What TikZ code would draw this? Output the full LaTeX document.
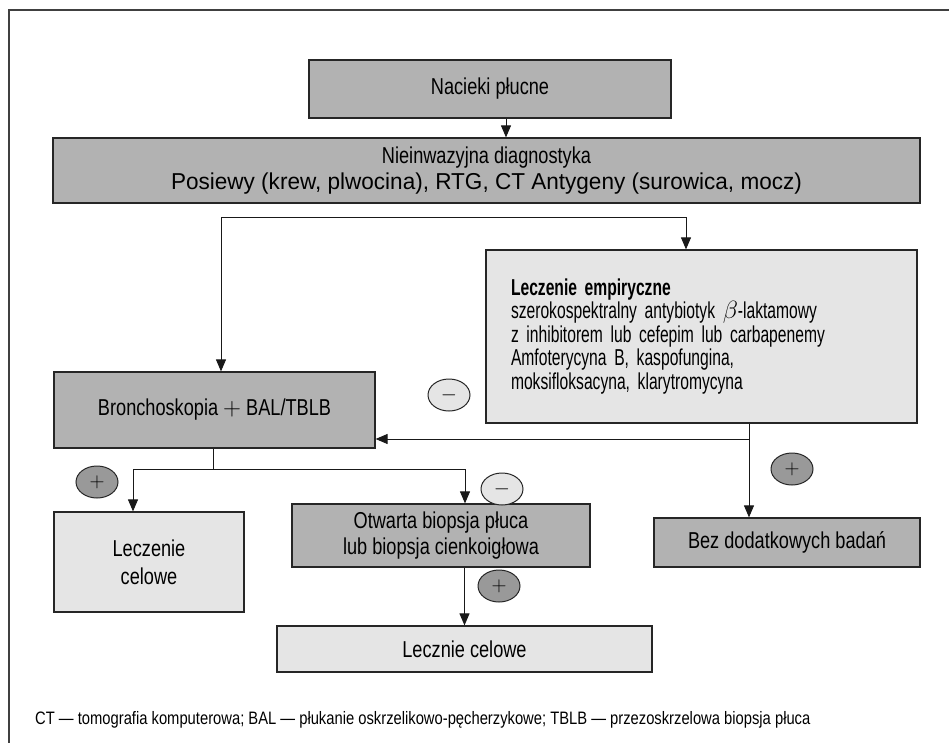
\documentclass[tikz,border=0pt]{standalone}
\usepackage{fontspec}
\setmainfont{Liberation Sans}[FakeStretch=0.79]
\newfontfamily\widefont{Liberation Sans}[FakeStretch=0.98]
\newfontfamily\narrowfont{Liberation Sans}[FakeStretch=0.68]
\newfontfamily\notefont{Liberation Sans}[FakeStretch=0.82]
\usetikzlibrary{arrows.meta}
\usetikzlibrary{shapes.geometric}

\tikzset{
  darkbox/.style={draw=black!85, line width=1.2pt, fill=black!30, inner sep=0pt, align=center, font=\fontsize{23}{26}\selectfont},
  lightbox/.style={draw=black!85, line width=1.2pt, fill=black!10, inner sep=0pt, align=center, font=\fontsize{23}{26}\selectfont},
  pluslabel/.style={ellipse, draw=black!85, line width=1pt, fill=black!40, minimum width=42pt, minimum height=32pt, inner sep=0pt, font=\fontsize{20}{20}\selectfont},
  minuslabel/.style={ellipse, draw=black!85, line width=1pt, fill=black!10, minimum width=42pt, minimum height=32pt, inner sep=0pt, font=\fontsize{20}{20}\selectfont},
  arr/.style={-{Triangle[length=12pt,width=10pt]}, line width=1pt, draw=black!90},
  link/.style={line width=1pt, draw=black!90}
}

\begin{document}
\begin{tikzpicture}[x=1pt, y=-1pt]
\useasboundingbox (0,0) rectangle (949,743);

% frame
\draw[line width=2pt, black!75] (949,10) -- (9,10) -- (9,743);

% top
\node[darkbox, minimum width=362pt, minimum height=58pt] (nacieki) at (490,89) {Nacieki płucne};
\node[darkbox, minimum width=867pt, minimum height=65pt] (diag) at (486.5,170.5)
  {Nieinwazyjna diagnostyka\\{\widefont Posiewy (krew, plwocina), RTG, CT Antygeny (surowica, mocz)}};
\draw[arr] ([xshift=16pt]nacieki.south) -- ([xshift=16pt]nacieki.south |- diag.north);

% empirical treatment
\node[lightbox, minimum width=431pt, minimum height=173pt, text width=381pt, align=left,
      font=\narrowfont\fontsize{23}{23.5}\selectfont] (empir) at (701.5,336.5)
  {\textbf{Leczenie empiryczne}\\
   szerokospektralny antybiotyk $\beta$-laktamowy\\
   z inhibitorem lub cefepim lub carbapenemy\\
   Amfoterycyna B, kaspofungina,\\
   moksifloksacyna, klarytromycyna};
\node[darkbox, minimum width=321pt, minimum height=76pt] (bronch) at (214.5,410) {Bronchoskopia $+$ BAL/TBLB};

\coordinate (split) at (221,218);
\coordinate (splitR) at (686,218);
\draw[arr] (split) -- (split |- bronch.north);
\draw[arr] (split) -- (splitR) -- (splitR |- empir.north);

% lower row
\node[lightbox, minimum width=190pt, minimum height=100pt, font=\fontsize{23}{28}\selectfont] (celowe) at (149,562) {Leczenie\\celowe};
\node[darkbox, minimum width=298pt, minimum height=63pt] (otwarta) at (441,535.5)
  {Otwarta biopsja płuca\\lub biopsja cienkoigłowa};
\node[lightbox, minimum width=375pt, minimum height=46pt] (celowe2) at (464.5,649) {Lecznie celowe};
\node[darkbox, minimum width=266pt, minimum height=49pt] (bez) at (787,542.5) {Bez dodatkowych badań};

\coordinate (drop) at (749,439);
\draw[arr] (drop |- empir.south) -- (drop |- bez.north);
\draw[arr] (drop) -- (drop -| bronch.east);

\coordinate (fork) at (213,469);
\coordinate (forkL) at (133,469);
\coordinate (forkR) at (465,469);
\draw[link] (fork |- bronch.south) -- (fork);
\draw[arr] (forkL) -- (forkL |- celowe.north);
\draw[arr] (forkL) -- (forkR) -- (forkR |- otwarta.north);
\draw[arr] (otwarta.south -| celowe2.north) -- (celowe2.north);

% signs
\node[minuslabel] (minus1) at (449,395) {$-$};
\node[minuslabel] (minus2) at (502,489) {$-$};
\node[pluslabel] (plus1) at (97,482) {$+$};
\node[pluslabel] (plus2) at (792,469) {$+$};
\node[pluslabel] (plus3) at (499,586) {$+$};

% footnote
\node[anchor=west, inner sep=0pt, font=\notefont\fontsize{18}{18}\selectfont] (note) at (35,720)
  {CT — tomografia komputerowa; BAL — płukanie oskrzelikowo-pęcherzykowe; TBLB — przezoskrzelowa biopsja płuca};

\end{tikzpicture}
\end{document}
